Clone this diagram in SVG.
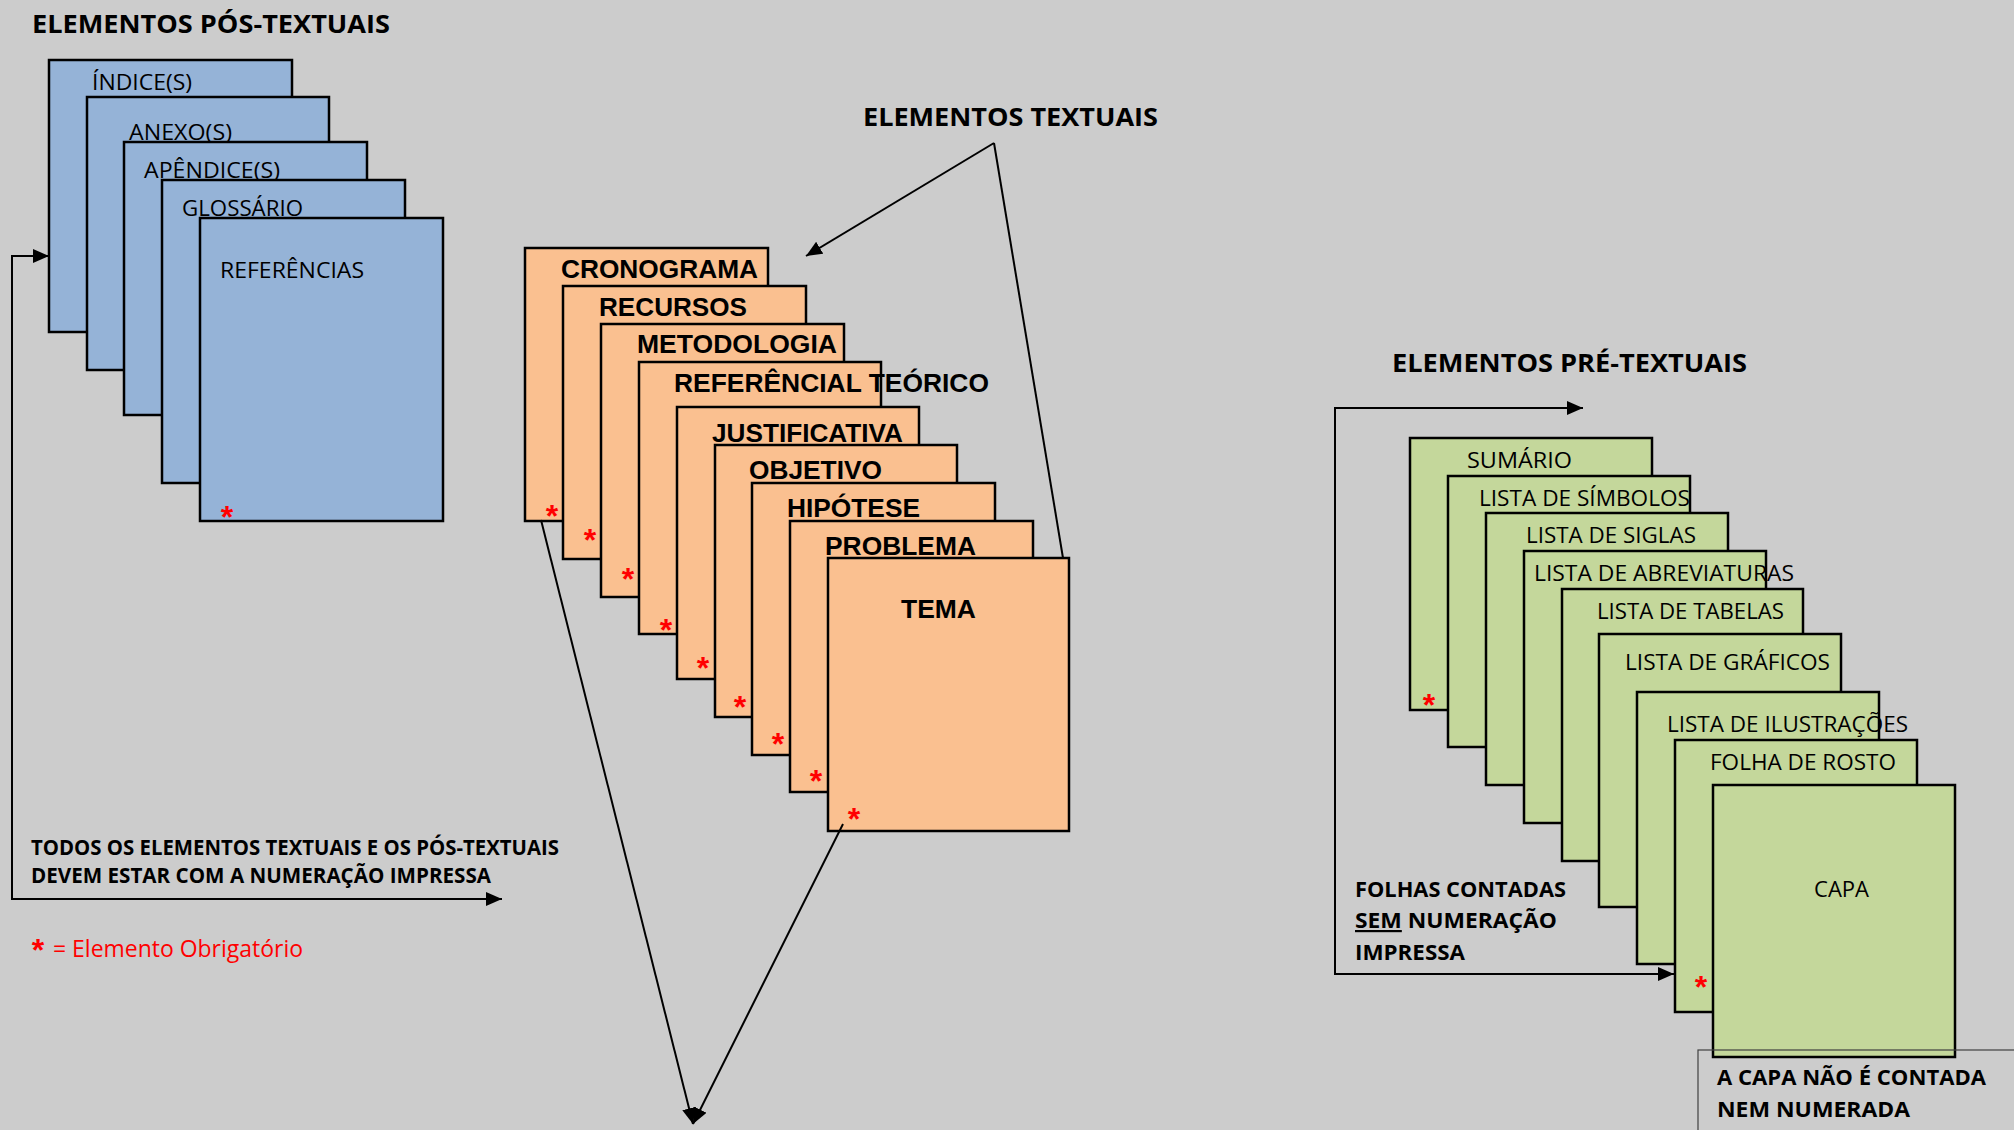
<svg xmlns="http://www.w3.org/2000/svg" width="2014" height="1130" viewBox="0 0 2014 1130">
<defs>
<style>
.bg{fill:#cccccc}
.blue{fill:#95b3d7;stroke:#000;stroke-width:2.5}
.org{fill:#fac090;stroke:#000;stroke-width:2.5}
.grn{fill:#c4d79b;stroke:#000;stroke-width:2.5}
.ttl{font-family:"Open Sans","Liberation Sans",sans-serif;font-weight:bold;font-size:25px;fill:#000}
.lb{font-family:"Open Sans","Liberation Sans",sans-serif;font-size:22px;fill:#000}
.bb{font-family:"Open Sans","Liberation Sans",sans-serif;font-weight:bold;font-size:22px;fill:#000}
.ob{font-family:"Liberation Sans",Arial,sans-serif;font-weight:bold;font-size:26px;fill:#000}
.ast{font-family:"Liberation Sans",Arial,sans-serif;font-weight:bold;font-size:32px;fill:#ff0000;text-anchor:middle}
.red{font-family:"Open Sans","Liberation Sans",sans-serif;font-size:23px;fill:#ff0000}
.con{fill:none;stroke:#000;stroke-width:2}
</style>
<marker id="ah" markerUnits="userSpaceOnUse" markerWidth="17" markerHeight="14" refX="16" refY="7" orient="auto-start-reverse">
<path d="M0,0 L16,7 L0,14 z" fill="#000"/>
</marker>
</defs>
<rect class="bg" x="0" y="0" width="2014" height="1130"/>

<text class="ttl" x="32" y="33" textLength="358" lengthAdjust="spacingAndGlyphs">ELEMENTOS PÓS-TEXTUAIS</text>
<text class="ttl" x="863" y="126" textLength="295" lengthAdjust="spacingAndGlyphs">ELEMENTOS TEXTUAIS</text>
<text class="ttl" x="1392" y="372" textLength="355" lengthAdjust="spacingAndGlyphs">ELEMENTOS PRÉ-TEXTUAIS</text>

<g id="pos-textuais">
<g id="indice"><rect class="blue" x="49" y="60" width="243" height="272"/><text class="lb" x="92" y="90" textLength="100" lengthAdjust="spacingAndGlyphs">ÍNDICE(S)</text></g>
<g id="anexo"><rect class="blue" x="87" y="97" width="242" height="273"/><text class="lb" x="129" y="140" textLength="103" lengthAdjust="spacingAndGlyphs">ANEXO(S)</text></g>
<g id="apendice"><rect class="blue" x="124" y="142" width="243" height="273"/><text class="lb" x="144" y="178" textLength="136" lengthAdjust="spacingAndGlyphs">APÊNDICE(S)</text></g>
<g id="glossario"><rect class="blue" x="162" y="180" width="243" height="303"/><text class="lb" x="182" y="216" textLength="121" lengthAdjust="spacingAndGlyphs">GLOSSÁRIO</text></g>
<g id="referencias"><rect class="blue" x="200" y="218" width="243" height="303"/><text class="lb" x="220" y="278" textLength="144" lengthAdjust="spacingAndGlyphs">REFERÊNCIAS</text><text class="ast" x="227" y="528">*</text></g>
</g>

<g id="textuais">
<g id="cronograma"><rect class="org" x="525" y="248" width="243" height="273"/><text class="ob" x="561" y="278" textLength="197" lengthAdjust="spacingAndGlyphs">CRONOGRAMA</text><text class="ast" x="552" y="527">*</text></g>
<g id="recursos"><rect class="org" x="563" y="286" width="243" height="273"/><text class="ob" x="599" y="316" textLength="148" lengthAdjust="spacingAndGlyphs">RECURSOS</text><text class="ast" x="590" y="551">*</text></g>
<g id="metodologia"><rect class="org" x="601" y="324" width="243" height="273"/><text class="ob" x="637" y="353" textLength="200" lengthAdjust="spacingAndGlyphs">METODOLOGIA</text><text class="ast" x="628" y="590">*</text></g>
<g id="referencial"><rect class="org" x="639" y="362" width="242" height="272"/><text class="ob" x="674" y="392" textLength="315" lengthAdjust="spacingAndGlyphs">REFERÊNCIAL TEÓRICO</text><text class="ast" x="666" y="641">*</text></g>
<g id="justificativa"><rect class="org" x="677" y="407" width="242" height="272"/><text class="ob" x="712" y="442" textLength="191" lengthAdjust="spacingAndGlyphs">JUSTIFICATIVA</text><text class="ast" x="703" y="679">*</text></g>
<g id="objetivo"><rect class="org" x="715" y="445" width="242" height="272"/><text class="ob" x="749" y="479" textLength="133" lengthAdjust="spacingAndGlyphs">OBJETIVO</text><text class="ast" x="740" y="718">*</text></g>
<g id="hipotese"><rect class="org" x="752" y="483" width="243" height="272"/><text class="ob" x="787" y="517" textLength="133" lengthAdjust="spacingAndGlyphs">HIPÓTESE</text><text class="ast" x="778" y="755">*</text></g>
<g id="problema"><rect class="org" x="790" y="521" width="243" height="271"/><text class="ob" x="825" y="555" textLength="151" lengthAdjust="spacingAndGlyphs">PROBLEMA</text><text class="ast" x="816" y="792">*</text></g>
<g id="tema"><rect class="org" x="828" y="558" width="241" height="273"/><text class="ob" x="901" y="618" textLength="75" lengthAdjust="spacingAndGlyphs">TEMA</text><text class="ast" x="854" y="830">*</text></g>
</g>

<g id="pre-textuais">
<g id="sumario"><rect class="grn" x="1410" y="438" width="242" height="272"/><text class="lb" x="1467" y="468" textLength="105" lengthAdjust="spacingAndGlyphs">SUMÁRIO</text><text class="ast" x="1429" y="716">*</text></g>
<g id="simbolos"><rect class="grn" x="1448" y="476" width="242" height="271"/><text class="lb" x="1479" y="506" textLength="211" lengthAdjust="spacingAndGlyphs">LISTA DE SÍMBOLOS</text></g>
<g id="siglas"><rect class="grn" x="1486" y="513" width="242" height="272"/><text class="lb" x="1526" y="543" textLength="170" lengthAdjust="spacingAndGlyphs">LISTA DE SIGLAS</text></g>
<g id="abreviaturas"><rect class="grn" x="1524" y="551" width="242" height="272"/><text class="lb" x="1534" y="581" textLength="260" lengthAdjust="spacingAndGlyphs">LISTA DE ABREVIATURAS</text></g>
<g id="tabelas"><rect class="grn" x="1562" y="589" width="241" height="272"/><text class="lb" x="1597" y="619" textLength="187" lengthAdjust="spacingAndGlyphs">LISTA DE TABELAS</text></g>
<g id="graficos"><rect class="grn" x="1599" y="634" width="242" height="273"/><text class="lb" x="1625" y="670" textLength="205" lengthAdjust="spacingAndGlyphs">LISTA DE GRÁFICOS</text></g>
<g id="ilustracoes"><rect class="grn" x="1637" y="692" width="242" height="272"/><text class="lb" x="1667" y="732" textLength="241" lengthAdjust="spacingAndGlyphs">LISTA DE ILUSTRAÇÕES</text></g>
<g id="folha-rosto"><rect class="grn" x="1675" y="740" width="242" height="272"/><text class="lb" x="1710" y="770" textLength="186" lengthAdjust="spacingAndGlyphs">FOLHA DE ROSTO</text><text class="ast" x="1701" y="998">*</text></g>
<g id="capa"><rect class="grn" x="1713" y="785" width="242" height="272"/><text class="lb" x="1814" y="897" textLength="55" lengthAdjust="spacingAndGlyphs">CAPA</text></g>
</g>

<g id="connectors">
<path class="con" d="M49,256 H12 V899 H502" marker-start="url(#ah)" marker-end="url(#ah)"/>
<path class="con" d="M994,143 L806,256" marker-end="url(#ah)"/>
<path class="con" d="M994,143 L1063,558"/>
<path class="con" d="M541,520 L693,1124" marker-end="url(#ah)"/>
<path class="con" d="M843,824 L693,1124" marker-end="url(#ah)"/>
<path class="con" d="M1583,408 H1335 V974 H1674" marker-start="url(#ah)" marker-end="url(#ah)"/>
</g>

<g id="notes">
<text class="bb" x="31" y="855" textLength="528" lengthAdjust="spacingAndGlyphs">TODOS OS ELEMENTOS TEXTUAIS E OS PÓS-TEXTUAIS</text>
<text class="bb" x="31" y="883" textLength="460" lengthAdjust="spacingAndGlyphs">DEVEM ESTAR COM A NUMERAÇÃO IMPRESSA</text>
<text class="ast" x="38" y="961">*</text>
<text class="red" x="53" y="957" textLength="250" lengthAdjust="spacingAndGlyphs">= Elemento Obrigatório</text>
<text class="bb" x="1355" y="897" textLength="211" lengthAdjust="spacingAndGlyphs">FOLHAS CONTADAS</text>
<text class="bb" x="1355" y="928" textLength="202" lengthAdjust="spacingAndGlyphs"><tspan text-decoration="underline">SEM</tspan> NUMERAÇÃO</text>
<text class="bb" x="1355" y="960" textLength="110" lengthAdjust="spacingAndGlyphs">IMPRESSA</text>
<rect x="1698" y="1050" width="400" height="200" fill="none" stroke="#404040" stroke-width="1.2"/>
<text class="bb" x="1717" y="1085" textLength="269" lengthAdjust="spacingAndGlyphs">A CAPA NÃO É CONTADA</text>
<text class="bb" x="1717" y="1117" textLength="193" lengthAdjust="spacingAndGlyphs">NEM NUMERADA</text>
</g>
</svg>
